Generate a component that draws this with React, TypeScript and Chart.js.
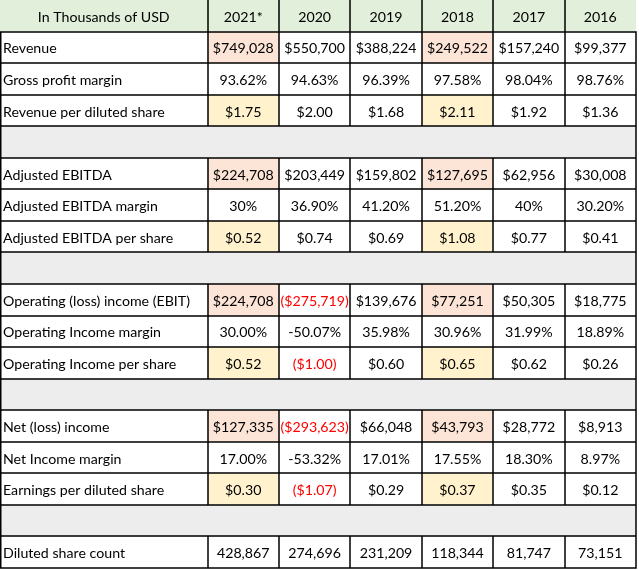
import React, { useEffect, useRef } from 'react';
import { Chart, registerables } from 'chart.js';

Chart.register(...registerables);

// ---------- data ----------
const headerTitle = 'In Thousands of USD';
const years = ['2021*', '2020', '2019', '2018', '2017', '2016'];
const highlightYears = ['2021*', '2018'];

const revenue = [749028, 550700, 388224, 249522, 157240, 99377];
const grossMargin = [93.62, 94.63, 96.39, 97.58, 98.04, 98.76];
const revenuePerShare = [1.75, 2.0, 1.68, 2.11, 1.92, 1.36];

const adjEbitda = [224708, 203449, 159802, 127695, 62956, 30008];
const adjEbitdaMargin = [30, 36.9, 41.2, 51.2, 40, 30.2];
const adjEbitdaPerShare = [0.52, 0.74, 0.69, 1.08, 0.77, 0.41];

const ebit = [224708, -275719, 139676, 77251, 50305, 18775];
const opMargin = [30.0, -50.07, 35.98, 30.96, 31.99, 18.89];
const opPerShare = [0.52, -1.0, 0.6, 0.65, 0.62, 0.26];

const netIncome = [127335, -293623, 66048, 43793, 28772, 8913];
const netMargin = [17.0, -53.32, 17.01, 17.55, 18.3, 8.97];
const eps = [0.3, -1.07, 0.29, 0.37, 0.35, 0.12];

const dilutedShares = [428867, 274696, 231209, 118344, 81747, 73151];

type Kind = 'usd' | 'pct' | 'pctTrim' | 'ps' | 'count';
type Row = { label: string; values: number[]; kind: Kind; hl?: string } | null;

const rows: Row[] = [
  { label: 'Revenue', values: revenue, kind: 'usd', hl: 'amount' },
  { label: 'Gross profit margin', values: grossMargin, kind: 'pct' },
  { label: 'Revenue per diluted share', values: revenuePerShare, kind: 'ps', hl: 'share' },
  null,
  { label: 'Adjusted EBITDA', values: adjEbitda, kind: 'usd', hl: 'amount' },
  { label: 'Adjusted EBITDA margin', values: adjEbitdaMargin, kind: 'pctTrim' },
  { label: 'Adjusted EBITDA per share', values: adjEbitdaPerShare, kind: 'ps', hl: 'share' },
  null,
  { label: 'Operating (loss) income (EBIT)', values: ebit, kind: 'usd', hl: 'amount' },
  { label: 'Operating Income margin', values: opMargin, kind: 'pct' },
  { label: 'Operating Income per share', values: opPerShare, kind: 'ps', hl: 'share' },
  null,
  { label: 'Net (loss) income', values: netIncome, kind: 'usd', hl: 'amount' },
  { label: 'Net Income margin', values: netMargin, kind: 'pct' },
  { label: 'Earnings per diluted share', values: eps, kind: 'ps', hl: 'share' },
  null,
  { label: 'Diluted share count', values: dilutedShares, kind: 'count' },
];

// ---------- style ----------
const LABEL_UNITS = 2.906;
const FONT = '14.2px Lato';
const TEXT = '#000000';
const NEG = '#FF0000';
const HEADER_BG = '#E2EFDA';
const GAP_BG = '#EDEDED';
const AMOUNT_BG = '#FCE4D6';
const SHARE_BG = '#FFF2CC';

function fmt(v: number, kind: Kind): { text: string; neg: boolean } {
  const a = Math.abs(v);
  switch (kind) {
    case 'usd':
      return v < 0
        ? { text: `($${a.toLocaleString('en-US')})`, neg: true }
        : { text: `$${a.toLocaleString('en-US')}`, neg: false };
    case 'ps':
      return v < 0
        ? { text: `($${a.toFixed(2)})`, neg: true }
        : { text: `$${a.toFixed(2)}`, neg: false };
    case 'pct':
      return { text: `${v.toFixed(2)}%`, neg: false };
    case 'pctTrim':
      return { text: Number.isInteger(v) ? `${v}%` : `${v.toFixed(2)}%`, neg: false };
    default:
      return { text: v.toLocaleString('en-US'), neg: false };
  }
}

const tablePlugin = {
  id: 'tablePlugin',
  afterDraw(chart: any) {
    const ctx: CanvasRenderingContext2D = chart.ctx;
    const xs = chart.scales.x;
    const ys = chart.scales.y;
    const nRows = rows.length + 1;
    const colEdges = [0, LABEL_UNITS, ...years.map((_, i) => LABEL_UNITS + i + 1)];
    const X = (u: number) => xs.getPixelForValue(u);
    const Y = (r: number) => ys.getPixelForValue(r);
    const left = X(0);
    const right = X(colEdges[colEdges.length - 1]);

    ctx.save();
    // backgrounds
    ctx.fillStyle = '#ffffff';
    ctx.fillRect(left, Y(0), right - left, Y(nRows) - Y(0));
    ctx.fillStyle = HEADER_BG;
    ctx.fillRect(left, Y(0), right - left, Y(1) - Y(0));
    rows.forEach((row, i) => {
      const r = i + 1;
      if (!row) {
        ctx.fillStyle = GAP_BG;
        ctx.fillRect(left, Y(r), right - left, Y(r + 1) - Y(r));
        return;
      }
      if (row.hl) {
        years.forEach((yr, c) => {
          if (!highlightYears.includes(yr)) return;
          ctx.fillStyle = row.hl === 'amount' ? AMOUNT_BG : SHARE_BG;
          const x0 = X(colEdges[c + 1]);
          const x1 = X(colEdges[c + 2]);
          ctx.fillRect(x0, Y(r), x1 - x0, Y(r + 1) - Y(r));
        });
      }
    });

    // grid lines
    ctx.strokeStyle = '#000000';
    ctx.lineWidth = 1.5;
    const cr = (p: number) => Math.round(p);
    ctx.beginPath();
    for (let r = 1; r <= nRows; r++) {
      const y = cr(Y(r));
      ctx.moveTo(left, y);
      ctx.lineTo(right + 0.75, y);
    }
    for (let r = 0; r < nRows; r++) {
      const row = r === 0 ? 'header' : rows[r - 1];
      const y0 = cr(Y(r));
      const y1 = cr(Y(r + 1));
      const edges = row === null ? [colEdges[0], colEdges[colEdges.length - 1]] : colEdges;
      edges.forEach((e, k) => {
        if (r === 0 && (k === 0 || k === colEdges.length - 1)) return;
        const x = cr(X(e)) + (k === 0 ? 0.75 : 0);
        ctx.moveTo(x, y0);
        ctx.lineTo(x, y1);
      });
    }
    ctx.stroke();

    // text
    ctx.font = FONT;
    ctx.textBaseline = 'middle';
    const mid = (r: number) => (Y(r) + Y(r + 1)) / 2 + 1.5;
    ctx.fillStyle = TEXT;
    ctx.textAlign = 'center';
    ctx.fillText(headerTitle, (X(0) + X(LABEL_UNITS)) / 2, mid(0));
    years.forEach((yr, c) => {
      ctx.fillText(yr, (X(colEdges[c + 1]) + X(colEdges[c + 2])) / 2, mid(0));
    });
    rows.forEach((row, i) => {
      if (!row) return;
      const r = i + 1;
      ctx.textAlign = 'left';
      ctx.fillStyle = TEXT;
      ctx.fillText(row.label, left + 3, mid(r));
      ctx.textAlign = 'center';
      row.values.forEach((v, c) => {
        const f = fmt(v, row.kind);
        ctx.fillStyle = f.neg ? NEG : TEXT;
        ctx.fillText(f.text, (X(colEdges[c + 1]) + X(colEdges[c + 2])) / 2, mid(r));
      });
    });
    ctx.restore();
  },
};

export default function App() {
  const ref = useRef<HTMLCanvasElement | null>(null);
  useEffect(() => {
    if (!ref.current) return;
    const chart = new Chart(ref.current, {
      type: 'scatter',
      data: { datasets: [] },
      options: {
        animation: false,
        responsive: false,
        devicePixelRatio: 1,
        layout: { padding: { left: 0, top: 0, right: 3, bottom: 2 } },
        plugins: { legend: { display: false }, tooltip: { enabled: false } },
        scales: {
          x: { type: 'linear', display: false, min: 0, max: LABEL_UNITS + years.length },
          y: { type: 'linear', display: false, min: 0, max: rows.length + 1, reverse: true },
        },
      },
      plugins: [tablePlugin],
    });
    return () => chart.destroy();
  }, []);
  return (
    <div style={{ position: 'absolute', left: 0, top: 0, width: 639, height: 570, background: '#fff' }}>
      <canvas ref={ref} width={639} height={570} style={{ width: 639, height: 570 }} />
    </div>
  );
}
